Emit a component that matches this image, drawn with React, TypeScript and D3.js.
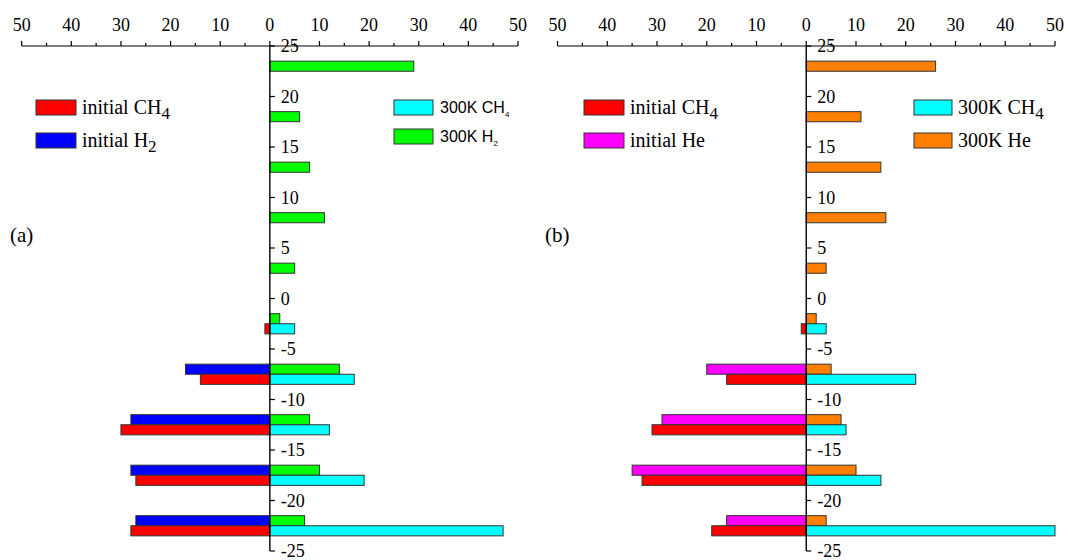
import React from "react";
import * as d3 from "d3";

// Bin centres along the vertical axis; each bin holds an upper and a lower bar
const bins = [22.5, 17.5, 12.5, 7.5, 2.5, -2.5, -7.5, -12.5, -17.5, -22.5];

// Panel (a): CH4 / H2
const initialCH4A = [0, 0, 0, 0, 0, 1, 14, 30, 27, 28];
const initialH2 = [0, 0, 0, 0, 0, 0, 17, 28, 28, 27];
const ch4300KA = [0, 0, 0, 0, 0, 5, 17, 12, 19, 47];
const h2300K = [29, 6, 8, 11, 5, 2, 14, 8, 10, 7];

// Panel (b): CH4 / He
const initialCH4B = [0, 0, 0, 0, 0, 1, 16, 31, 33, 19];
const initialHe = [0, 0, 0, 0, 0, 0, 20, 29, 35, 16];
const ch4300KB = [0, 0, 0, 0, 0, 4, 22, 8, 15, 50];
const he300K = [26, 11, 15, 16, 4, 2, 5, 7, 10, 4];

const xTicks = [-50, -40, -30, -20, -10, 0, 10, 20, 30, 40, 50];
const xMinorTicks = [-45, -35, -25, -15, -5, 5, 15, 25, 35, 45];
const yTicks = [25, 20, 15, 10, 5, 0, -5, -10, -15, -20, -25];

const SERIF = "'Liberation Serif', 'Times New Roman', serif";
const SANS = "'Liberation Sans', Arial, sans-serif";
const EDGE = "#333";

const yScale = d3.scaleLinear().domain([-25, 25]).range([551, 46]);

type Series = { values: number[]; color: string; side: "left" | "right"; pos: "upper" | "lower" };

function Panel({ x0, x1, series }: { x0: number; x1: number; series: Series[] }) {
  const x = d3.scaleLinear().domain([-50, 50]).range([x0, x1]);
  const zero = x(0);
  const axisY = yScale(25);
  const bottomY = yScale(-25);
  return (
    <g>
      {series.map((s, si) =>
        s.values.map((v, i) => {
          if (v === 0) return null;
          const c = bins[i];
          const yTop = s.pos === "upper" ? yScale(c + 1) : yScale(c);
          const yBot = s.pos === "upper" ? yScale(c) : yScale(c - 1);
          const xa = s.side === "left" ? x(-v) : zero;
          const xb = s.side === "left" ? zero : x(v);
          return (
            <rect
              key={`${si}-${i}`}
              x={xa}
              y={yTop}
              width={xb - xa}
              height={yBot - yTop}
              fill={s.color}
              stroke={EDGE}
              strokeWidth={1}
            />
          );
        })
      )}
      {/* top axis */}
      <line x1={x0} x2={x1} y1={axisY} y2={axisY} stroke="#000" strokeWidth={1.2} />
      {xTicks.map((t) => (
        <g key={t}>
          <line x1={x(t)} x2={x(t)} y1={axisY} y2={axisY - 5} stroke="#000" strokeWidth={1.2} />
          <text x={x(t)} y={31} textAnchor="middle" fontFamily={SERIF} fontSize={18} fill="#000">
            {Math.abs(t)}
          </text>
        </g>
      ))}
      {xMinorTicks.map((t) => (
        <line key={t} x1={x(t)} x2={x(t)} y1={axisY} y2={axisY - 3} stroke="#000" strokeWidth={1.2} />
      ))}
      {/* vertical axis through zero */}
      <line x1={zero} x2={zero} y1={axisY} y2={bottomY} stroke="#000" strokeWidth={1.4} />
      {yTicks.map((t) => (
        <g key={t}>
          <line x1={zero} x2={zero + 5} y1={yScale(t)} y2={yScale(t)} stroke="#000" strokeWidth={1.2} />
          <text x={zero + 11} y={yScale(t)} dy="0.35em" fontFamily={SERIF} fontSize={18} fill="#000">
            {t < 0 ? `-${Math.abs(t)}` : `${t}`}
          </text>
        </g>
      ))}
    </g>
  );
}

function Swatch({ x, y, w, color }: { x: number; y: number; w: number; color: string }) {
  return <rect x={x} y={y} width={w} height={15} fill={color} stroke={EDGE} strokeWidth={1} />;
}

export default function App() {
  return (
    <svg
      width={1069}
      height={560}
      style={{ position: "absolute", left: 0, top: 0, background: "#fff" }}
    >
      <rect width={1069} height={560} fill="#fff" />
      <Panel
        x0={21.7}
        x1={518}
        series={[
          { values: initialH2, color: "#0000ff", side: "left", pos: "upper" },
          { values: initialCH4A, color: "#ff0000", side: "left", pos: "lower" },
          { values: h2300K, color: "#00ff00", side: "right", pos: "upper" },
          { values: ch4300KA, color: "#00ffff", side: "right", pos: "lower" },
        ]}
      />
      <Panel
        x0={557.5}
        x1={1055}
        series={[
          { values: initialHe, color: "#ff00ff", side: "left", pos: "upper" },
          { values: initialCH4B, color: "#ff0000", side: "left", pos: "lower" },
          { values: he300K, color: "#ff8000", side: "right", pos: "upper" },
          { values: ch4300KB, color: "#00ffff", side: "right", pos: "lower" },
        ]}
      />

      {/* panel (a) legends */}
      <Swatch x={36} y={100} w={40} color="#ff0000" />
      <text x={82} y={114} fontFamily={SERIF} fontSize={20}>
        initial CH<tspan fontSize={17} dy={5}>4</tspan>
      </text>
      <Swatch x={36} y={133} w={40} color="#0000ff" />
      <text x={82} y={147} fontFamily={SERIF} fontSize={20}>
        initial H<tspan fontSize={17} dy={5}>2</tspan>
      </text>
      <Swatch x={394} y={100} w={39} color="#00ffff" />
      <text x={440} y={113} fontFamily={SANS} fontSize={16}>
        300K CH<tspan fontSize={8} dy={4}>4</tspan>
      </text>
      <Swatch x={394} y={129} w={39} color="#00ff00" />
      <text x={440} y={142} fontFamily={SANS} fontSize={16}>
        300K H<tspan fontSize={8} dy={4}>2</tspan>
      </text>

      {/* panel (b) legends */}
      <Swatch x={584} y={100} w={40} color="#ff0000" />
      <text x={630} y={114} fontFamily={SERIF} fontSize={20}>
        initial CH<tspan fontSize={17} dy={5}>4</tspan>
      </text>
      <Swatch x={584} y={133} w={40} color="#ff00ff" />
      <text x={630} y={147} fontFamily={SERIF} fontSize={20}>
        initial He
      </text>
      <Swatch x={914} y={100} w={38} color="#00ffff" />
      <text x={958} y={114} fontFamily={SERIF} fontSize={20}>
        300K CH<tspan fontSize={17} dy={5}>4</tspan>
      </text>
      <Swatch x={914} y={133} w={38} color="#ff8000" />
      <text x={958} y={147} fontFamily={SERIF} fontSize={20}>
        300K He
      </text>

      <text x={10} y={242} fontFamily={SERIF} fontSize={21}>(a)</text>
      <text x={545} y={242} fontFamily={SERIF} fontSize={21}>(b)</text>
    </svg>
  );
}
